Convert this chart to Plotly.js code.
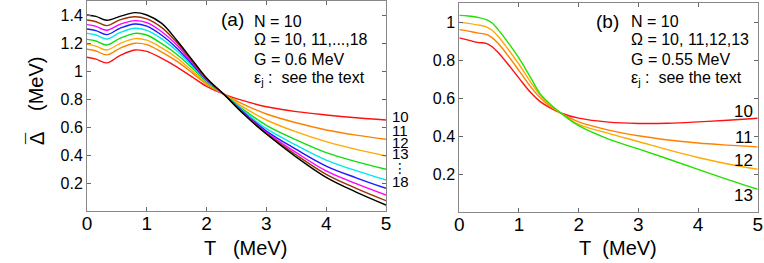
<!DOCTYPE html>
<html>
<head>
<meta charset="utf-8">
<script src="https://cdn.plot.ly/plotly-3.0.1.min.js"></script>
<style>html,body{margin:0;padding:0;background:#fff;}#plot{width:764px;height:263px;}</style>
</head>
<body>
<div id="plot"></div>
<script>
// ---------- Panel (a): N = 10, Omega = 10..18, G = 0.6 MeV ----------
const tempA = [0, 0.15, 0.33, 0.55, 0.8, 1.0, 1.25, 1.5, 1.75, 2.0, 2.3, 2.6, 3.0, 3.5, 4.0, 4.5, 5.0];
const gapA_om10 = [1.098, 1.085, 1.058, 1.110, 1.150, 1.140, 1.090, 1.030, 0.960, 0.890, 0.833, 0.790, 0.745, 0.710, 0.686, 0.666, 0.650];
const gapA_om11 = [1.155, 1.143, 1.115, 1.162, 1.198, 1.188, 1.135, 1.070, 0.990, 0.905, 0.832, 0.765, 0.693, 0.630, 0.579, 0.542, 0.512];
const gapA_om12 = [1.190, 1.178, 1.150, 1.196, 1.231, 1.220, 1.165, 1.095, 1.005, 0.913, 0.831, 0.745, 0.650, 0.565, 0.495, 0.440, 0.393];
const gapA_om13 = [1.226, 1.214, 1.186, 1.233, 1.269, 1.257, 1.195, 1.120, 1.025, 0.922, 0.830, 0.730, 0.612, 0.508, 0.417, 0.353, 0.298];
const gapA_om14 = [1.269, 1.257, 1.229, 1.274, 1.305, 1.290, 1.230, 1.145, 1.040, 0.930, 0.830, 0.720, 0.588, 0.470, 0.364, 0.288, 0.221];
const gapA_om15 = [1.300, 1.288, 1.260, 1.305, 1.336, 1.320, 1.255, 1.165, 1.052, 0.935, 0.830, 0.712, 0.571, 0.440, 0.321, 0.237, 0.162];
const gapA_om16 = [1.331, 1.319, 1.291, 1.333, 1.360, 1.345, 1.280, 1.185, 1.064, 0.940, 0.829, 0.707, 0.560, 0.417, 0.286, 0.195, 0.114];
const gapA_om17 = [1.364, 1.352, 1.324, 1.365, 1.388, 1.372, 1.310, 1.205, 1.075, 0.945, 0.829, 0.703, 0.553, 0.400, 0.262, 0.162, 0.074];
const gapA_om18 = [1.400, 1.390, 1.362, 1.390, 1.417, 1.400, 1.340, 1.220, 1.085, 0.950, 0.828, 0.700, 0.550, 0.385, 0.240, 0.135, 0.043];
const seriesA = [gapA_om10, gapA_om11, gapA_om12, gapA_om13, gapA_om14, gapA_om15, gapA_om16, gapA_om17, gapA_om18];

// ---------- Panel (b): N = 10, Omega = 10..13, G = 0.55 MeV ----------
const tempB = [0, 0.15, 0.3, 0.45, 0.55, 0.65, 0.8, 1.0, 1.2, 1.35, 1.5, 1.7, 2.0, 2.5, 3.0, 3.5, 4.0, 4.5, 5.0];
const gapB_om10 = [0.917, 0.905, 0.893, 0.888, 0.870, 0.840, 0.785, 0.705, 0.628, 0.583, 0.553, 0.522, 0.495, 0.474, 0.467, 0.468, 0.475, 0.484, 0.494];
const gapB_om11 = [0.960, 0.952, 0.943, 0.935, 0.918, 0.888, 0.830, 0.745, 0.658, 0.604, 0.562, 0.522, 0.475, 0.432, 0.402, 0.380, 0.364, 0.353, 0.344];
const gapB_om12 = [0.998, 0.993, 0.985, 0.975, 0.957, 0.925, 0.865, 0.778, 0.683, 0.618, 0.568, 0.522, 0.462, 0.415, 0.372, 0.328, 0.288, 0.254, 0.226];
const gapB_om13 = [1.035, 1.032, 1.025, 1.013, 0.995, 0.960, 0.900, 0.810, 0.705, 0.625, 0.575, 0.522, 0.455, 0.385, 0.333, 0.280, 0.226, 0.172, 0.121];
const seriesB = [gapB_om10, gapB_om11, gapB_om12, gapB_om13];

// ---------- Labels ----------
const colorsA = ['#ff1010', '#ff8000', '#ffaa00', '#10dd10', '#00e8ee', '#1a1aff', '#ff00ff', '#993300', '#000000'];
const colorsB = ['#ff1010', '#ff8000', '#ffaa00', '#22e000'];
const omegaA = ['10', '11', '12', '13', '14', '15', '16', '17', '18'];
const omegaB = ['10', '11', '12', '13'];
const xTicks = [0, 1, 2, 3, 4, 5];
const yTicksA = [0.2, 0.4, 0.6, 0.8, 1, 1.2, 1.4];
const yTickTextA = ['0.2', '0.4', '0.6', '0.8', '1', '1.2', '1.4'];
const yTicksB = [0.2, 0.4, 0.6, 0.8, 1];
const yTickTextB = ['0.2', '0.4', '0.6', '0.8', '1'];
const infoA = ['N = 10', 'Ω = 10, 11,...,18', 'G = 0.6 MeV', 'ε<sub>j</sub> :  see the text'];
const infoB = ['N = 10', 'Ω = 10, 11,12,13', 'G = 0.55 MeV', 'ε<sub>j</sub> :  see the text'];
const endLabelsA = ['10', '11', '12', '13', '⋮', '18'];
const endLabelsB = ['10', '11', '12', '13'];

const W = 764, H = 263;
const px = v => v / W;
const py = v => (H - v) / H;
const FONT = 'Liberation Sans, Arial, DejaVu Sans, sans-serif';

const traces = [];
seriesA.forEach((s, i) => traces.push({
  x: tempA, y: s, type: 'scatter', mode: 'lines', name: 'Ω=' + omegaA[i],
  line: {color: colorsA[i], width: 1.4, shape: 'spline', smoothing: 1},
  xaxis: 'x', yaxis: 'y', showlegend: false, hoverinfo: 'skip'
}));
seriesB.forEach((s, i) => traces.push({
  x: tempB, y: s, type: 'scatter', mode: 'lines', name: 'Ω=' + omegaB[i],
  line: {color: colorsB[i], width: 1.4, shape: 'spline', smoothing: 1},
  xaxis: 'x2', yaxis: 'y2', showlegend: false, hoverinfo: 'skip'
}));

const frame = {
  showline: true, linecolor: '#888', linewidth: 1, mirror: 'ticks',
  ticks: 'inside', ticklen: 4, tickcolor: '#666', showgrid: false, zeroline: false,
  fixedrange: true
};

const annotations = [];
const ann = (text, x, y, opts) => annotations.push(Object.assign({
  text: text, xref: 'paper', yref: 'paper', x: px(x), y: py(y),
  xanchor: 'left', yanchor: 'middle', showarrow: false,
  font: {family: FONT, size: 16, color: '#000'}
}, opts || {}));

// panel info text
ann('(a)', 219, 20, {font: {family: FONT, size: 19, color: '#000'}});
[21, 40, 59, 78].forEach((y, i) => ann(infoA[i], 252, y));
ann('(b)', 594, 21, {font: {family: FONT, size: 19, color: '#000'}});
[21, 40, 59, 78].forEach((y, i) => ann(infoB[i], 629, y));

// end-of-curve labels
[116, 130.5, 142, 153.5, 168, 182].forEach((y, i) => ann(endLabelsA[i], 390, y,
  i === 4 ? {font: {family: 'DejaVu Sans, sans-serif', size: 14, color: '#000'}, x: px(391)}
          : {font: {family: FONT, size: 15, color: '#000'}}));
[111, 137.5, 160, 195].forEach((y, i) => ann(endLabelsB[i], 755, y, {xanchor: 'right', font: {family: FONT, size: 17, color: '#000'}}));

// axis titles
ann('T\u00a0\u00a0\u00a0(MeV)', 245, 248, {xanchor: 'center', font: {family: FONT, size: 20, color: '#000'}});
ann('T\u00a0\u00a0(MeV)', 618, 248, {xanchor: 'center', font: {family: FONT, size: 20, color: '#000'}});
ann('(MeV)', 36, 84, {xanchor: 'center', textangle: -90, font: {family: FONT, size: 20, color: '#000'}});
ann('Δ', 37, 139, {xanchor: 'center', textangle: -90, font: {family: FONT, size: 20, color: '#000'}});
ann('¯', 33, 139, {xanchor: 'center', textangle: -90, font: {family: FONT, size: 20, color: '#000'}});

const layout = {
  width: W, height: H,
  margin: {l: 0, r: 0, t: 0, b: 0},
  paper_bgcolor: '#fff', plot_bgcolor: '#fff',
  font: {family: FONT, color: '#000'},
  showlegend: false,
  xaxis: Object.assign({}, frame, {
    domain: [px(87), px(386)], range: [0, 5], tickvals: xTicks,
    tickfont: {family: FONT, size: 19, color: '#000'}, anchor: 'y', ticklabelstandoff: -5
  }),
  yaxis: Object.assign({}, frame, {
    domain: [py(211), py(1)], range: [0, 1.5], tickvals: yTicksA, ticktext: yTickTextA,
    tickfont: {family: FONT, size: 16, color: '#000'}, anchor: 'x'
  }),
  xaxis2: Object.assign({}, frame, {
    domain: [px(459.3), px(757.7)], range: [0, 5], tickvals: xTicks,
    tickfont: {family: FONT, size: 19, color: '#000'}, anchor: 'y2', ticklabelstandoff: -5
  }),
  yaxis2: Object.assign({}, frame, {
    domain: [py(212.3), py(3)], range: [0, 1.1], tickvals: yTicksB, ticktext: yTickTextB,
    tickfont: {family: FONT, size: 16, color: '#000'}, anchor: 'x2'
  }),
  annotations: annotations
};

Plotly.newPlot('plot', traces, layout, {staticPlot: true, displayModeBar: false});
</script>
</body>
</html>
